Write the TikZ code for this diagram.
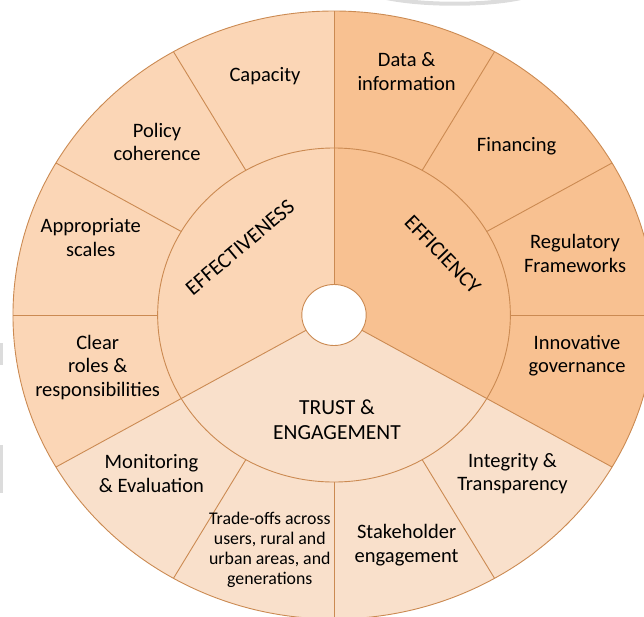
\documentclass[tikz,border=0pt]{standalone}
\usepackage{fontspec}
\setmainfont{Carlito}

\definecolor{effcol}{HTML}{FBD6B6}
\definecolor{ficol}{HTML}{F8C191}
\definecolor{trustcol}{HTML}{F9E0CB}
\definecolor{rimcol}{HTML}{CB8A52}
\definecolor{ghost}{HTML}{DCDCDC}

\tikzset{
	item/.style={align=center, font=\fontsize{20.5}{23.5}\selectfont},
	smallitem/.style={align=center, font=\fontsize{17.8}{20}\selectfont},
	pillar/.style={align=center, font=\fontsize{21.5}{25}\selectfont},
}

\begin{document}
\begin{tikzpicture}[x=1pt, y=1pt]
				\useasboundingbox (-334,-301) rectangle (310,315);

				% faint marks left over at the edges
				\draw[ghost, line width=4pt] (48,318) .. controls (86,309) and (156,309) .. (191,318);
				\fill[ghost] (-334,-50) rectangle (-331,-28);
				\fill[ghost] (-334,-178) rectangle (-331,-130);

				\begin{scope}[xscale=1.056]
					% three pillars, each filling its inner sector and its outer ring
					\fill[effcol] (0,0) -- (90:304) arc[start angle=90, end angle=210, radius=304] -- cycle;
					\fill[trustcol] (0,0) -- (210:304) arc[start angle=210, end angle=330, radius=304] -- cycle;
					\fill[ficol] (0,0) -- (-30:304) arc[start angle=-30, end angle=90, radius=304] -- cycle;

					\draw[rimcol, line width=0.9pt] (0,0) circle (304);
					\draw[rimcol, line width=0.9pt] (0,0) circle (167);
					\foreach \a in {0,30,...,330}
						\draw[rimcol, line width=0.9pt] (\a:167) -- (\a:304);
					\foreach \a in {90,210,330}
						\draw[rimcol, line width=0.9pt] (\a:30.5) -- (\a:167);

					\filldraw[fill=white, draw=rimcol, line width=0.9pt] (0,0) circle (30.5);
				\end{scope}

				% pillars
				\node[pillar, rotate=40] (effect) at (-94,67.5) {EFFECTIVENESS};
				\node[pillar, rotate=-46] (effic) at (108.7,60.4) {EFFICIENCY};
				\node[pillar] (trust) at (3,-104.6) {TRUST \&\\ENGAGEMENT};

				% outer ring
				\node[item] (capacity) at (-69,239.2) {Capacity};
				\node[item] (data) at (72.6,243.5) {Data \&\\information};
				\node[item] (policy) at (-177,172.8) {Policy\\coherence};
				\node[item] (finance) at (182.6,168.4) {Financing};
				\node[item] (scales) at (-243.2,77.3) {Appropriate\\scales};
				\node[item] (regul) at (241,61.6) {Regulatory\\Frameworks};
				\node[item] (roles) at (-236.3,-52.4) {Clear\\roles \&\\responsibilities};
				\node[item] (innov) at (243,-40.6) {Innovative\\governance};
				\node[item] (monitor) at (-182.5,-158.5) {Monitoring\\\& Evaluation};
				\node[item] (integ) at (178.5,-158.5) {Integrity \&\\Transparency};
				\node[smallitem] (tradeoff) at (-64.2,-235) {Trade-offs across\\users, rural and\\urban areas, and\\generations};
				\node[item] (stake) at (72.6,-230) {Stakeholder\\engagement};

			\end{tikzpicture}
\end{document}
